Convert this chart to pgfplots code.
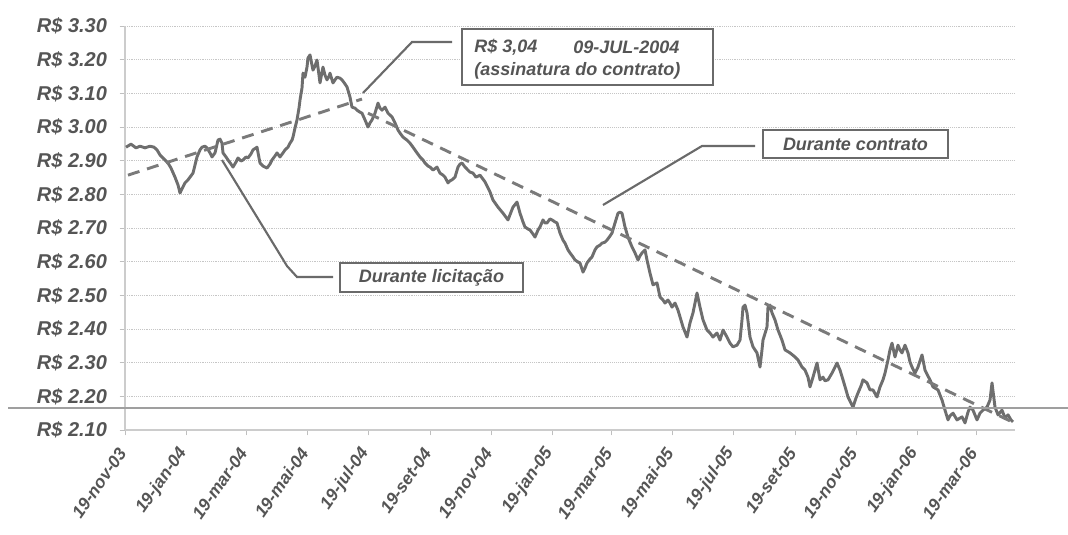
\documentclass[border=0pt]{standalone}
\usepackage{pgfplots}
\pgfplotsset{compat=1.18}
\usepackage{fontspec}
\setmainfont{Liberation Sans}
\definecolor{linegray}{HTML}{6E6E6E}
\definecolor{dashgray}{HTML}{7A7A7A}
\definecolor{labgray}{HTML}{555555}
\definecolor{boxgray}{HTML}{6A6A6A}
\begin{document}
\begin{tikzpicture}
\begin{axis}[
  at={(93.75pt,78.75pt)}, anchor=south west,
  scale only axis, width=667.5pt, height=303pt,
  xmin=0, xmax=890, ymin=2.10, ymax=3.30,
  axis x line*=bottom, axis y line*=left,
  axis line style={draw=gray!40, line width=0.8pt, -},
  xtick={0,61,121,182,243,305,366,427,486,547,608,670,731,792,851},
  xticklabels={19-nov-03,19-jan-04,19-mar-04,19-mai-04,19-jul-04,19-set-04,19-nov-04,19-jan-05,19-mar-05,19-mai-05,19-jul-05,19-set-05,19-nov-05,19-jan-06,19-mar-06},
  ytick={2.1,2.2,2.3,2.4,2.5,2.6,2.7,2.8,2.9,3.0,3.1,3.2,3.3},
  yticklabels={R\$ 2.10,R\$ 2.20,R\$ 2.30,R\$ 2.40,R\$ 2.50,R\$ 2.60,R\$ 2.70,R\$ 2.80,R\$ 2.90,R\$ 3.00,R\$ 3.10,R\$ 3.20,R\$ 3.30},
  ymajorgrids, grid style={densely dotted, gray!45, line width=0.7pt},
  tick align=outside, major tick length=4pt, tick style={gray!50, line width=0.7pt},
  xticklabel style={font=\bfseries\itshape\fontsize{13}{13}\selectfont, text=labgray, rotate=55, anchor=east},
  xticklabel shift=8pt,
  yticklabel style={font=\bfseries\itshape\fontsize{15}{15}\selectfont, text=labgray},
  yticklabel shift=6pt,
  clip=false,
]
\addplot[linegray, line width=2.2pt, line join=round] coordinates {
(1,2.940)(6,2.949)(11,2.938)(15,2.943)(20,2.938)(25,2.943)(29,2.940)(32,2.932)(35,2.917)(38,2.908)
(41,2.899)(43,2.893)(46,2.878)(50,2.851)(53,2.828)(55,2.804)(58,2.822)(60,2.834)(63,2.843)(65,2.851)
(68,2.863)(70,2.887)(72,2.911)(75,2.932)(77,2.940)(80,2.943)(82,2.938)(85,2.923)(87,2.911)(90,2.923)
(93,2.961)(95,2.964)(97,2.952)(98,2.923)(101,2.911)(103,2.902)(106,2.890)(108,2.881)(111,2.896)(113,2.908)
(116,2.899)(118,2.902)(121,2.911)(123,2.908)(126,2.920)(128,2.932)(132,2.940)(135,2.893)(138,2.884)(142,2.878)
(145,2.890)(147,2.902)(150,2.914)(152,2.923)(155,2.911)(158,2.923)(160,2.932)(163,2.940)(165,2.952)(167,2.961)
(168,2.970)(170,2.997)(172,3.021)(174,3.056)(175,3.080)(177,3.116)(178,3.160)(180,3.148)(182,3.178)(183,3.205)
(185,3.214)(187,3.184)(188,3.169)(190,3.181)(192,3.199)(194,3.154)(195,3.131)(197,3.163)(198,3.178)(200,3.154)
(202,3.140)(204,3.151)(205,3.160)(207,3.140)(208,3.131)(210,3.140)(212,3.148)(215,3.145)(217,3.140)(220,3.128)
(222,3.119)(225,3.089)(227,3.059)(230,3.056)(232,3.050)(235,3.044)(237,3.041)(240,3.021)(243,3.000)(245,3.012)
(247,3.021)(250,3.041)(253,3.071)(255,3.056)(257,3.050)(260,3.059)(263,3.041)(267,3.030)(270,3.012)(273,2.991)
(275,2.982)(278,2.970)(282,2.961)(285,2.952)(288,2.940)(292,2.923)(295,2.911)(298,2.902)(300,2.893)(303,2.884)
(305,2.881)(308,2.872)(312,2.881)(315,2.863)(318,2.857)(320,2.851)(323,2.834)(325,2.840)(327,2.843)(330,2.851)
(333,2.881)(335,2.890)(337,2.893)(340,2.881)(343,2.872)(345,2.866)(348,2.863)(351,2.851)(355,2.857)(360,2.837)
(365,2.807)(368,2.783)(373,2.762)(378,2.744)(383,2.724)(386,2.747)(388,2.762)(392,2.777)(395,2.744)(398,2.718)
(400,2.703)(403,2.697)(405,2.694)(408,2.682)(410,2.673)(413,2.694)(415,2.703)(418,2.724)(420,2.715)(422,2.715)
(425,2.727)(427,2.724)(430,2.718)(432,2.715)(435,2.685)(438,2.664)(440,2.655)(443,2.635)(445,2.626)(448,2.614)
(450,2.605)(453,2.599)(455,2.596)(458,2.569)(460,2.581)(462,2.596)(465,2.608)(467,2.614)(470,2.635)(472,2.644)
(475,2.649)(477,2.655)(480,2.658)(482,2.664)(485,2.676)(487,2.685)(490,2.715)(493,2.744)(495,2.747)(497,2.744)
(500,2.703)(503,2.673)(505,2.658)(507,2.644)(510,2.626)(513,2.605)(515,2.617)(517,2.626)(520,2.635)(522,2.605)
(525,2.566)(528,2.531)(530,2.534)(532,2.537)(535,2.495)(538,2.486)(540,2.477)(543,2.486)(545,2.477)(547,2.465)
(550,2.477)(553,2.456)(555,2.436)(558,2.406)(560,2.391)(562,2.376)(565,2.418)(568,2.448)(570,2.477)(572,2.507)
(575,2.465)(578,2.427)(582,2.397)(585,2.388)(588,2.376)(592,2.388)(595,2.367)(598,2.397)(602,2.376)(605,2.358)
(608,2.347)(612,2.352)(615,2.367)(617,2.427)(618,2.465)(620,2.471)(622,2.448)(625,2.376)(628,2.347)(632,2.329)
(635,2.287)(637,2.338)(638,2.367)(642,2.406)(643,2.465)(645,2.471)(647,2.448)(650,2.427)(653,2.397)(657,2.367)
(660,2.338)(665,2.329)(670,2.317)(673,2.308)(677,2.287)(680,2.278)(683,2.257)(685,2.228)(688,2.257)(692,2.299)
(695,2.249)(698,2.257)(700,2.246)(703,2.249)(707,2.269)(710,2.287)(712,2.299)(715,2.278)(718,2.249)(721,2.219)
(723,2.198)(726,2.180)(728,2.168)(731,2.195)(733,2.210)(736,2.231)(738,2.249)(742,2.240)(745,2.219)(748,2.219)
(752,2.198)(755,2.228)(758,2.249)(760,2.269)(763,2.308)(765,2.338)(767,2.358)(770,2.317)(773,2.352)(775,2.338)
(777,2.329)(780,2.352)(783,2.329)(785,2.302)(787,2.287)(790,2.269)(793,2.287)(797,2.323)(800,2.278)(803,2.260)
(805,2.249)(808,2.228)(813,2.219)(817,2.189)(820,2.159)(823,2.130)(825,2.142)(828,2.150)(832,2.130)(837,2.139)
(840,2.121)(843,2.153)(845,2.168)(848,2.159)(852,2.130)(855,2.150)(858,2.159)(862,2.168)(865,2.189)(867,2.240)
(870,2.168)(873,2.145)(877,2.159)(880,2.136)(883,2.145)(886,2.130)(888,2.124)
};
\addplot[dashgray, line width=2.2pt, dash pattern=on 9pt off 6pt] coordinates {(3,2.857)(237,3.083)};
\addplot[dashgray, line width=2.2pt, dash pattern=on 9pt off 6pt] coordinates {(243,3.041)(885,2.127)};
\end{axis}
\begin{scope}[x=0.75pt,y=-0.75pt,shift={(0,401.25pt)}]
  % horizontal scan line
  \draw[gray!75, line width=1.4pt] (8,408) -- (1068,408);
  % leader lines
  \draw[boxgray, line width=1.6pt] (363,93) -- (412,42) -- (452,42);
  \draw[boxgray, line width=1.6pt] (603,205) -- (702,146) -- (755,146);
  \draw[boxgray, line width=1.6pt] (222,160) -- (287,266) -- (297,277) -- (333,277);
  % boxes
  \begin{scope}[every node/.style={font=\bfseries\itshape\fontsize{13.5}{14}\selectfont, text=labgray, inner sep=0pt}]
  \draw[boxgray, line width=1.8pt, fill=white] (462,29) rectangle (713,85);
  \node[anchor=west] at (474,47) {R\$ 3,04};
  \node[anchor=west] at (573,47) {09-JUL-2004};
  \node[anchor=west] at (474,71) {(assinatura do contrato)};
  \draw[boxgray, line width=1.8pt, fill=white] (763,130) rectangle (948,158);
  \node at (855.5,144.5) {Durante contrato};
  \draw[boxgray, line width=1.8pt, fill=white] (340,263) rectangle (523,292);
  \node at (431.5,278) {Durante licitação};
  \end{scope}
\end{scope}
\pgfresetboundingbox
\useasboundingbox (0,0) rectangle (801pt,401.25pt);
\end{tikzpicture}
\end{document}
